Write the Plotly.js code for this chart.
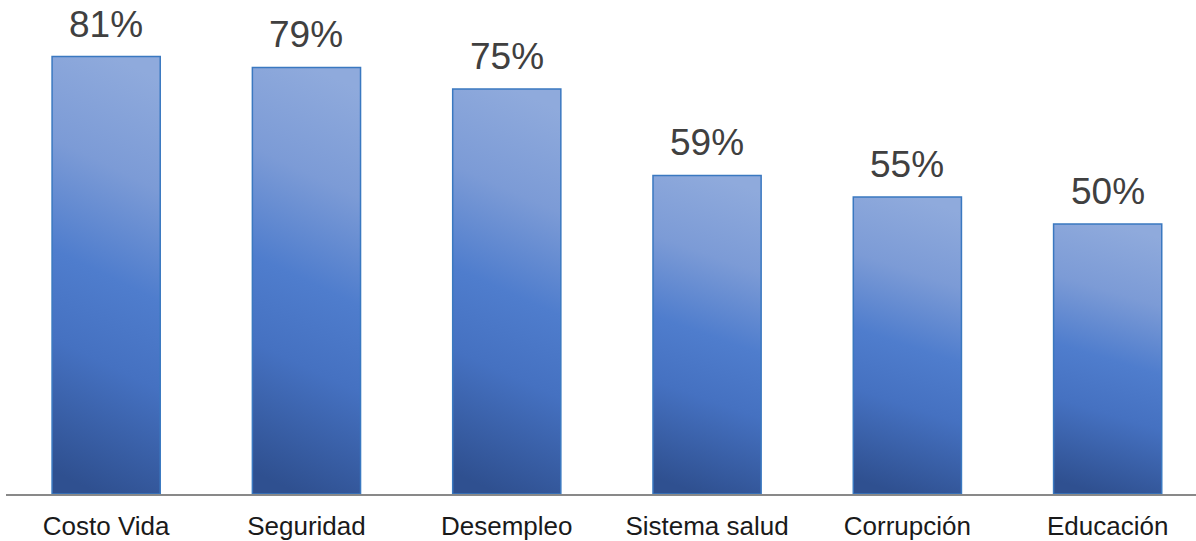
<!DOCTYPE html>
<html>
<head>
<meta charset="utf-8">
<script src="https://cdn.plot.ly/plotly-3.0.1.min.js"></script>
<style>html,body{margin:0;padding:0;background:#fff;}#chart{width:1196px;height:541px;}</style>
</head>
<body>
<div id="chart"></div>
<script>
var categories = ["Costo Vida", "Seguridad", "Desempleo", "Sistema salud", "Corrupción", "Educación"];
var values = [81, 79, 75, 59, 55, 50];
var valueLabels = ["81%", "79%", "75%", "59%", "55%", "50%"];

var trace = {
  type: "bar",
  x: categories,
  y: values,
  width: 0.54,
  marker: { color: "#4472C4", line: { color: "#3A78C0", width: 1.5 } },
  hoverinfo: "none"
};

var annotations = categories.map(function (c, i) {
  return {
    x: c, y: values[i], text: valueLabels[i],
    showarrow: false, yanchor: "bottom", yshift: 10,
    font: { family: "Liberation Sans, Arial, sans-serif", size: 37, color: "#404040" }
  };
});

var layout = {
  width: 1196, height: 541,
  margin: { l: 6, r: 0, t: 8, b: 47 },
  paper_bgcolor: "#fff", plot_bgcolor: "#fff",
  showlegend: false,
  xaxis: {
    type: "category",
    range: [-0.5, 5.441],
    showline: true, linecolor: "#898989", linewidth: 2,
    showgrid: false, zeroline: false, ticks: "",
    ticklabelstandoff: 8,
    tickfont: { family: "Liberation Sans, Arial, sans-serif", size: 26, color: "#1a1a1a" }
  },
  yaxis: {
    range: [0, 90],
    visible: false, showgrid: false, zeroline: false
  },
  annotations: annotations
};

Plotly.newPlot("chart", [trace], layout, { staticPlot: true, displayModeBar: false }).then(function (gd) {
  var svg = gd.querySelector("svg.main-svg");
  var defs = svg.querySelector("defs");
  var ns = "http://www.w3.org/2000/svg";
  var lg = document.createElementNS(ns, "linearGradient");
  lg.setAttribute("id", "barGrad");
  lg.setAttribute("x1", "0.56"); lg.setAttribute("y1", "0");
  lg.setAttribute("x2", "0.44"); lg.setAttribute("y2", "1");
  [["0", "#8FAADC"], ["0.25", "#7C9BD6"], ["0.5", "#4F7DCD"], ["0.7", "#4571C1"], ["1", "#2F5090"]].forEach(function (s) {
    var st = document.createElementNS(ns, "stop");
    st.setAttribute("offset", s[0]);
    st.setAttribute("stop-color", s[1]);
    lg.appendChild(st);
  });
  defs.appendChild(lg);
  gd.querySelectorAll(".bars .point path").forEach(function (p) {
    p.style.fill = "url(#barGrad)";
  });
});
</script>
</body>
</html>
